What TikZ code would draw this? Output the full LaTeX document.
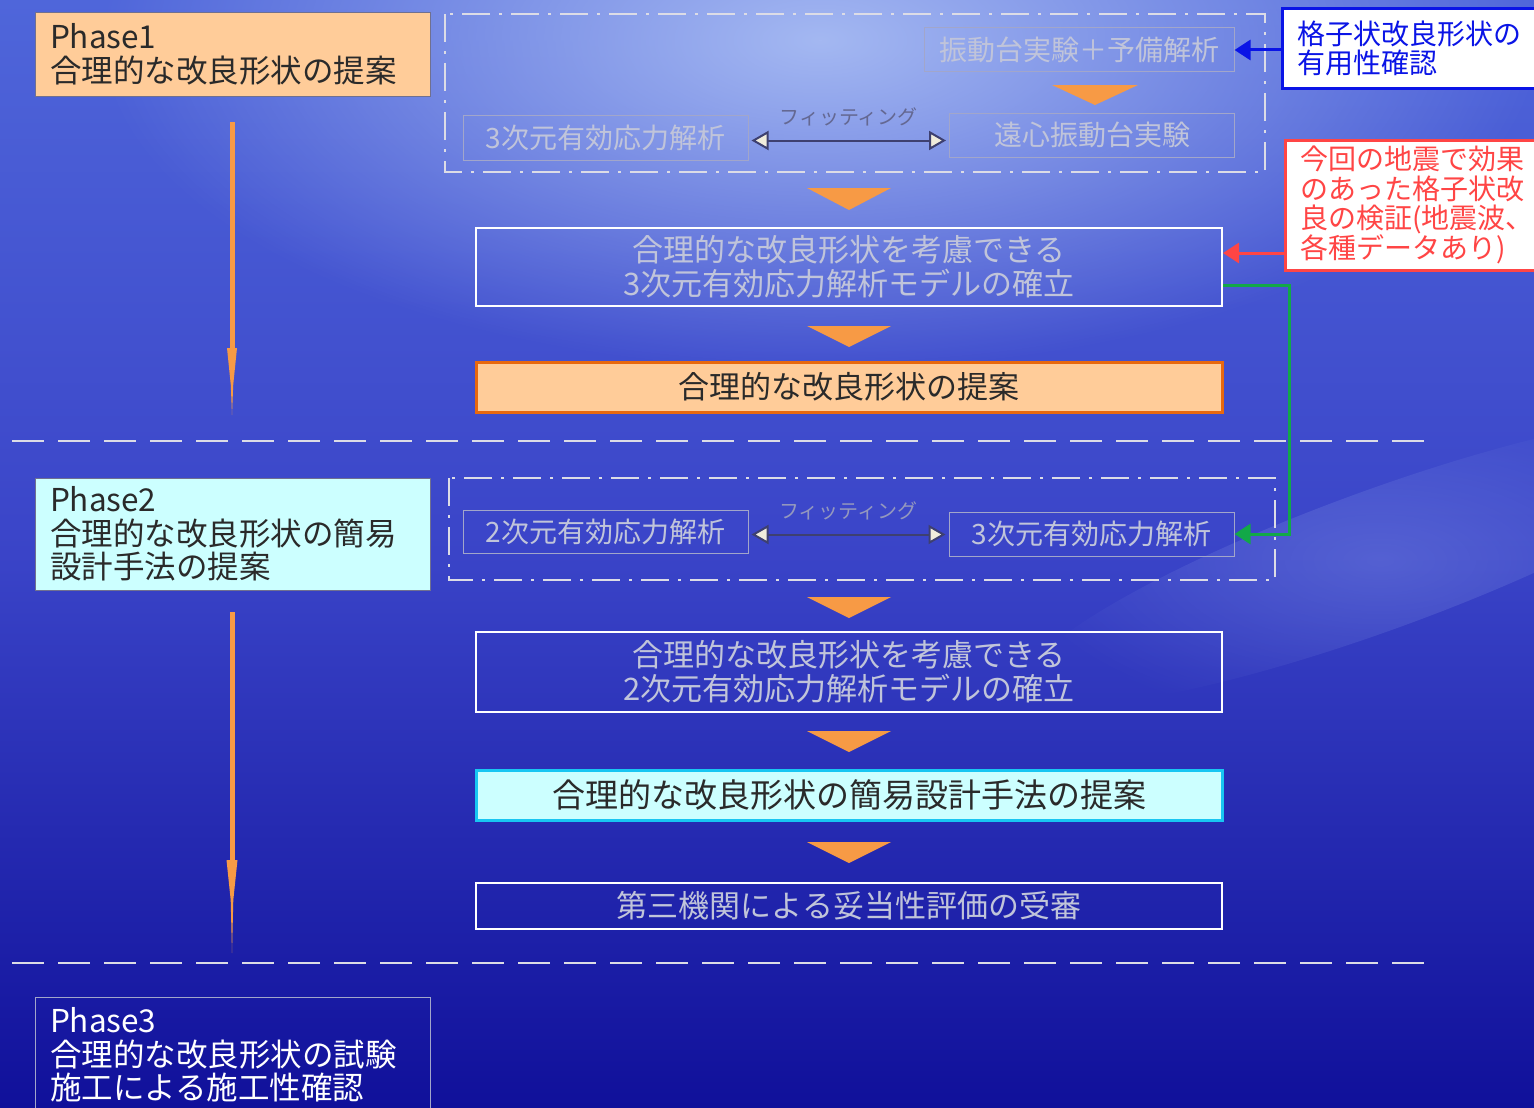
\documentclass[tikz,border=0pt]{standalone}
\usepackage{fontspec}
\newfontfamily\jp{Noto Sans CJK JP}
\usetikzlibrary{arrows.meta,fadings}
\definecolor{bgtop}{HTML}{4F66DA}
\definecolor{bgmid}{HTML}{3A44C8}
\definecolor{bgbot}{HTML}{10109A}
\definecolor{glowc}{HTML}{A4B8F2}
\definecolor{peach}{HTML}{FFCC99}
\definecolor{cyanfill}{HTML}{CCFFFF}
\definecolor{orangetri}{HTML}{F79A45}
\definecolor{orangeedge}{HTML}{E8680E}
\definecolor{cyanedge}{HTML}{18C6F2}
\definecolor{embtext}{HTML}{C0C4DA}
\definecolor{smalledge}{HTML}{A2A6CA}
\definecolor{grpline}{HTML}{DCDCE6}
\definecolor{blueline}{HTML}{0A14E6}
\definecolor{redline}{HTML}{FF4545}
\definecolor{greenline}{HTML}{12A848}
\definecolor{fitline}{HTML}{3E4070}
\definecolor{fittip}{HTML}{F0ECDC}
\definecolor{fittext}{HTML}{9498BE}
\definecolor{fittextdark}{HTML}{646892}
\definecolor{phaseedge}{HTML}{707090}
\definecolor{darktext}{HTML}{2A2A2A}
\tikzfading[name=glowfade, inner color=transparent!0, outer color=transparent!100]
\begin{document}
\begin{tikzpicture}[x=1pt,y=-1pt,
  phase/.style={rectangle, draw=phaseedge, line width=1pt, text width=365pt, inner xsep=15pt, inner ysep=0pt, align=left, font=\jp\fontsize{31.5}{33.5}\selectfont, minimum width=395pt},
  smallbox/.style={rectangle, draw=smalledge, line width=1pt, text=embtext, font=\jp\fontsize{28}{30}\selectfont, minimum height=44pt, minimum width=285pt, inner sep=0pt},
  model/.style={rectangle, draw=white, line width=2pt, text=embtext, align=center, font=\jp\fontsize{31}{34}\selectfont, minimum width=746pt, inner sep=0pt},
  callout/.style={rectangle, fill=white, line width=3pt, align=left, text width=240pt, inner xsep=15pt, minimum width=270pt, inner ysep=0pt, font=\jp\fontsize{28}{29.5}\selectfont},
  grouprect/.style={draw=grpline, line width=2pt, dash pattern=on 28pt off 9pt on 3pt off 9pt},
  sepline/.style={draw=grpline, line width=2pt, dash pattern=on 32pt off 14pt},
  fitarr/.style={draw=fitline, line width=2pt, {Triangle[length=17pt,width=19pt,fill=fittip]}-{Triangle[length=17pt,width=19pt,fill=fittip]}},
  fitlabel/.style={font=\jp\fontsize{20}{22}\selectfont, text=fittext, inner sep=0pt},
  calloutarrow/.style={line width=3pt, -{Triangle[length=16pt,width=20pt]}}
]
\useasboundingbox (0,0) rectangle (1534,1108);
\clip (0,0) rectangle (1534,1108);
% background
\shade[top color=bgtop, bottom color=bgbot, middle color=bgmid] (0,0) rectangle (1534,1108);
\fill[glowc, path fading=glowfade] (820,40) ellipse [x radius=720, y radius=330];
\fill[glowc, fill opacity=.25, path fading=glowfade, rotate around={20:(1380,560)}] (1380,560) ellipse [x radius=380, y radius=70];

% separators
\draw[sepline] (12,441) -- (1432,441);
\draw[sepline] (12,963) -- (1432,963);

% phase boxes
\node[phase, fill=peach, text=darktext, minimum height=83pt] (p1) at (232.5,54.5) {Phase1\\合理的な改良形状の提案};
\node[phase, fill=cyanfill, text=darktext, minimum height=112pt] (p2) at (232.5,534) {Phase2\\合理的な改良形状の簡易\\設計手法の提案};
\node[phase, draw=smalledge, text=white, minimum height=116pt] (p3) at (232.5,1055) {Phase3\\合理的な改良形状の試験\\施工による施工性確認};

% left phase arrows
\fill[orangetri] (229.5,122) rectangle (234.5,348);
\fill[orangetri] (227,348) -- (237,348) -- (233.2,385) -- (232,415) -- (230.8,385) -- cycle;
\fill[orangetri] (229.5,612) rectangle (234.5,860);
\fill[orangetri] (226.5,860) -- (237.5,860) -- (233.3,900) -- (232,953) -- (230.7,900) -- cycle;

% group 1
\draw[grouprect] (445,14) rectangle (1265,172);
\node[smallbox, minimum width=310pt] (shake) at (1079,50) {振動台実験＋予備解析};
\node[smallbox, minimum height=45pt] (a1) at (605.5,137.5) {3次元有効応力解析};
\node[smallbox] (cen) at (1092,135) {遠心振動台実験};
\fill[orangetri] (1052,85) -- (1138,85) -- (1095,105) -- cycle;
\draw[fitarr, shorten <=3pt, shorten >=3pt] ([yshift=-3pt]a1.east) -- ([yshift=-3pt]a1.east -| cen.west) node[midway, above=13pt, fitlabel, text=fittextdark] (fl1) {フィッティング};

% callouts
\node[callout, draw=blueline, text=blueline, minimum height=79pt] (bc) at (1417,48.5) {格子状改良形状の\\有用性確認};
\node[callout, draw=redline, text=redline, minimum height=130pt] (rc) at (1420,205) {今回の地震で効果\\のあった格子状改\\良の検証(地震波、\\各種データあり)};
\draw[calloutarrow, draw=blueline] (bc.west |- shake.east) -- (shake.east);

% main flow phase 1
\fill[orangetri] (807,188) -- (891,188) -- (849,210) -- cycle;
\node[model, minimum height=78pt] (m1) at (849,267) {合理的な改良形状を考慮できる\\3次元有効応力解析モデルの確立};
\fill[orangetri] (807,326) -- (891,326) -- (849,347) -- cycle;
\node[model, fill=peach, draw=orangeedge, line width=3pt, text=darktext, minimum height=50pt] (pr1) at (849,387) {合理的な改良形状の提案};
\coordinate (rin) at ([yshift=14pt]m1.east);
\draw[calloutarrow, draw=redline] (rc.west |- rin) -- (rin);

% group 2
\draw[grouprect] (449,478) rectangle (1275,580);
\node[smallbox, minimum height=43pt] (b1) at (605.5,531.5) {2次元有効応力解析};
\node[smallbox] (b2) at (1091.5,534) {3次元有効応力解析};
\draw[fitarr, shorten <=3pt, shorten >=3pt] ([yshift=-3pt]b1.east) -- ([yshift=-3pt]b1.east -| b2.west) node[midway, above=13pt, fitlabel] (fl2) {フィッティング};
\draw[calloutarrow, draw=greenline] ([yshift=-18pt]m1.east) -- ++(66,0) |- (b2.east);

% main flow phase 2
\fill[orangetri] (807,597) -- (891,597) -- (849,618) -- cycle;
\node[model, minimum height=80pt] (m2) at (849,672) {合理的な改良形状を考慮できる\\2次元有効応力解析モデルの確立};
\fill[orangetri] (807,731) -- (891,731) -- (849,752) -- cycle;
\node[model, fill=cyanfill, draw=cyanedge, line width=3pt, text=darktext, font=\jp\fontsize{33}{36}\selectfont, minimum height=50pt] (pr2) at (849,795) {合理的な改良形状の簡易設計手法の提案};
\fill[orangetri] (807,842) -- (891,842) -- (849,863) -- cycle;
\node[model, minimum height=46pt] (ev) at (849,906) {第三機関による妥当性評価の受審};
\end{tikzpicture}
\end{document}
